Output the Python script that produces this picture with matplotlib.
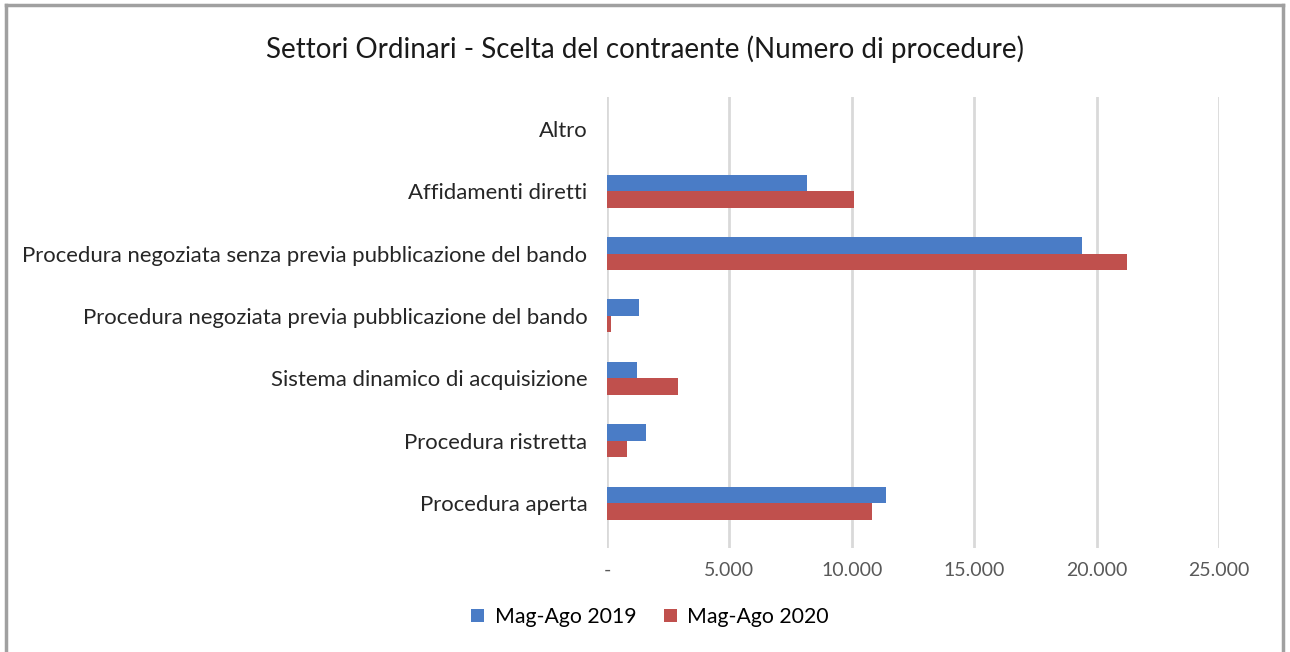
import matplotlib
matplotlib.use("Agg")
import matplotlib.pyplot as plt
import numpy as np
from matplotlib.lines import Line2D
from matplotlib.ticker import FuncFormatter

plt.rcParams['font.family'] = ['Lato', 'DejaVu Sans']

categorie = ["Procedura aperta",
             "Procedura ristretta",
             "Sistema dinamico di acquisizione",
             "Procedura negoziata previa pubblicazione del bando",
             "Procedura negoziata senza previa pubblicazione del bando",
             "Affidamenti diretti",
             "Altro"]
mag_ago_2019 = [11390, 1600, 1230, 1310, 19390, 8160, 0]
mag_ago_2020 = [10820, 820, 2910, 160, 21230, 10080, 0]
serie = ["Mag-Ago 2019", "Mag-Ago 2020"]
colori = ["#4a7cc6", "#c0504d"]

fig = plt.figure(figsize=(12.9, 6.52), dpi=100)
ax = fig.add_axes([607/1290, 1-548/652, (1219-607)/1290, (548-97)/652])

y = np.arange(len(categorie))
h = 0.265
ax.barh(y + h/2, mag_ago_2019, height=h, color=colori[0], label=serie[0], zorder=3)
ax.barh(y - h/2, mag_ago_2020, height=h, color=colori[1], label=serie[1], zorder=3)

ax.set_xlim(0, 25000)
ax.set_ylim(-0.72, 6.51)
ax.set_xticks(np.arange(0, 25001, 5000))
ax.xaxis.set_major_formatter(FuncFormatter(
    lambda v, p: "-" if v == 0 else f"{int(v):,}".replace(",", ".")))
ax.set_yticks(y)
ax.set_yticklabels(categorie, fontsize=15.9, color="#262626")
ax.tick_params(axis="x", labelsize=14, labelcolor="#595959", length=0, pad=10)
ax.tick_params(axis="y", length=0, pad=14)
ax.grid(axis="x", color="#d9d9d9", linewidth=2, zorder=0)
for s in ax.spines.values():
    s.set_visible(False)

fig.text(0.5, 1-49/652, "Settori Ordinari - Scelta del contraente (Numero di procedure)",
         ha="center", va="center", fontsize=20, color="#1a1a1a")

fig.legend(loc="center", bbox_to_anchor=(650/1290, 1-617/652), ncol=2, frameon=False,
           fontsize=15.3, handlelength=0.6, handleheight=0.6, columnspacing=1.3,
           handletextpad=0.5)

# cornice grigia
for xs, ys in [([6/1290, 6/1290], [0, 1-5/652]),
               ([6/1290, 1283/1290], [1-5/652, 1-5/652]),
               ([1283/1290, 1283/1290], [1-5/652, 0])]:
    fig.add_artist(Line2D(xs, ys, transform=fig.transFigure, color="#a0a0a0", linewidth=2.5))

fig.savefig("out.png", dpi=100)
